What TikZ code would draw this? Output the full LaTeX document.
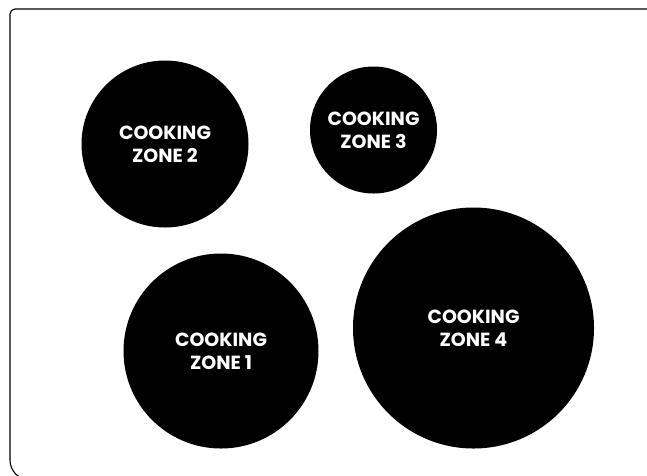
\documentclass[tikz,border=0pt]{standalone}
\usepackage{fontspec}
\setmainfont{Poppins}
\usepackage{tikz}

\begin{document}
\begin{tikzpicture}[x=1pt, y=-1pt,
  zone/.style={circle, fill=black, inner sep=0pt, minimum size=#1,
               align=center, text=white,
               font=\fontsize{19}{23}\selectfont\bfseries},
  ]
  \path[use as bounding box, clip] (0,0) rectangle (647,475);

  % cooktop outline, cut off at right and bottom
  \draw[line width=1.1pt] (670,9) [rounded corners=5pt] -- (10,9)
    [rounded corners=20pt] -- (10,480) -- (670,480);

  \node[zone=167pt] (zone2) at (165,144) {COOKING\\ZONE 2};
  \node[zone=127pt] (zone3) at (373.5,130) {COOKING\\ZONE 3};
  \node[zone=195pt] (zone1) at (221,351) {COOKING\\ZONE 1};
  \node[zone=241pt] (zone4) at (473.5,328) {COOKING\\ZONE 4};
\end{tikzpicture}
\end{document}
